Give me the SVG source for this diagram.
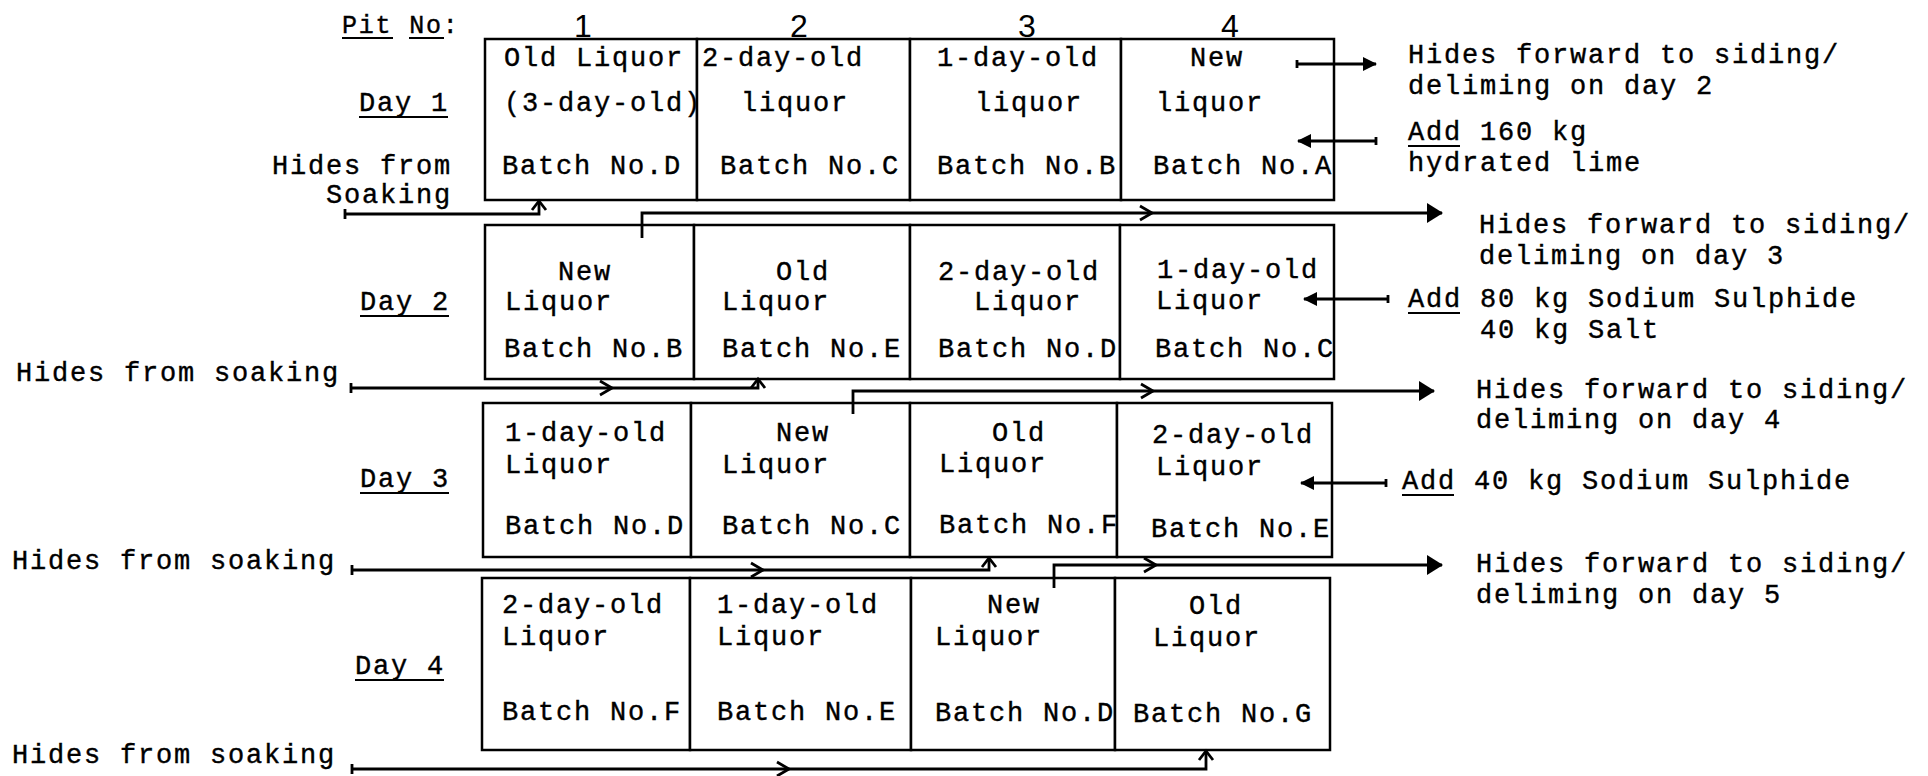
<svg xmlns="http://www.w3.org/2000/svg" width="1928" height="776" viewBox="0 0 1928 776">
<defs>
<style>
.t{font-family:"Liberation Mono","Courier New",monospace;font-size:27px;letter-spacing:1.8px;fill:#000;stroke:#000;stroke-width:0.4}
.s{font-size:25px;letter-spacing:1.8px}
.num{font-family:"Liberation Sans",Arial,sans-serif;font-size:32px;fill:#000}
.cell{fill:#fff;stroke:#000;stroke-width:2.5}
.ln{fill:none;stroke:#000;stroke-width:2.8}
.ul{stroke:#000;stroke-width:2.2}
.chev{fill:none;stroke:#000;stroke-width:2.8}
</style>
<marker id="big" markerUnits="userSpaceOnUse" markerWidth="16" markerHeight="20" refX="15" refY="10" orient="auto">
<path d="M0,0 L16,10 L0,20 z" fill="#000"/>
</marker>
<marker id="sm" markerUnits="userSpaceOnUse" markerWidth="14" markerHeight="14" refX="13" refY="7" orient="auto">
<path d="M0,0 L14,7 L0,14 z" fill="#000"/>
</marker>
</defs>
<rect width="1928" height="776" fill="#fff"/>

<g id="header">
<text class="t s" x="342" y="33">Pit No:</text>
<line class="ul" x1="342" y1="38" x2="393" y2="38"/>
<line class="ul" x1="409" y1="38" x2="444" y2="38"/>
<text class="num" x="583" y="37" text-anchor="middle">1</text>
<text class="num" x="799" y="37" text-anchor="middle">2</text>
<text class="num" x="1027" y="37" text-anchor="middle">3</text>
<text class="num" x="1230" y="37" text-anchor="middle">4</text>
</g>

<g id="labels">
<text class="t" x="359" y="111">Day 1</text><line class="ul" x1="359" y1="117" x2="448" y2="117"/>
<text class="t" x="360" y="310">Day 2</text><line class="ul" x1="360" y1="316" x2="449" y2="316"/>
<text class="t" x="360" y="487">Day 3</text><line class="ul" x1="360" y1="493" x2="449" y2="493"/>
<text class="t" x="355" y="674">Day 4</text><line class="ul" x1="355" y1="680" x2="444" y2="680"/>
<text class="t" x="452" y="174" text-anchor="end">Hides from</text>
<text class="t" x="452" y="203" text-anchor="end">Soaking</text>
<text class="t" x="16" y="381">Hides from soaking</text>
<text class="t" x="12" y="569">Hides from soaking</text>
<text class="t" x="12" y="763">Hides from soaking</text>
</g>

<g id="day1">
<g id="d1p1"><rect class="cell" x="485" y="39" width="212" height="161"/><text class="t" x="504" y="66">Old Liquor</text><text class="t" x="504" y="111">(3-day-old)</text><text class="t" x="502" y="174">Batch No.D</text></g>
<g id="d1p2"><rect class="cell" x="697" y="39" width="213" height="161"/><text class="t" x="702" y="66">2-day-old</text><text class="t" x="741" y="111">liquor</text><text class="t" x="720" y="174">Batch No.C</text></g>
<g id="d1p3"><rect class="cell" x="910" y="39" width="211" height="161"/><text class="t" x="937" y="66">1-day-old</text><text class="t" x="975" y="111">liquor</text><text class="t" x="937" y="174">Batch No.B</text></g>
<g id="d1p4"><rect class="cell" x="1121" y="39" width="213" height="161"/><text class="t" x="1190" y="66">New</text><text class="t" x="1156" y="111">liquor</text><text class="t" x="1153" y="174">Batch No.A</text></g>
</g>

<g id="day2">
<g id="d2p1"><rect class="cell" x="485" y="225" width="209" height="154"/><text class="t" x="558" y="280">New</text><text class="t" x="505" y="310">Liquor</text><text class="t" x="504" y="357">Batch No.B</text></g>
<g id="d2p2"><rect class="cell" x="694" y="225" width="216" height="154"/><text class="t" x="776" y="280">Old</text><text class="t" x="722" y="310">Liquor</text><text class="t" x="722" y="357">Batch No.E</text></g>
<g id="d2p3"><rect class="cell" x="910" y="225" width="210" height="154"/><text class="t" x="938" y="280">2-day-old</text><text class="t" x="974" y="310">Liquor</text><text class="t" x="938" y="357">Batch No.D</text></g>
<g id="d2p4"><rect class="cell" x="1120" y="225" width="214" height="154"/><text class="t" x="1157" y="278">1-day-old</text><text class="t" x="1156" y="309">Liquor</text><text class="t" x="1155" y="357">Batch No.C</text></g>
</g>

<g id="day3">
<g id="d3p1"><rect class="cell" x="483" y="403" width="208" height="154"/><text class="t" x="505" y="441">1-day-old</text><text class="t" x="505" y="473">Liquor</text><text class="t" x="505" y="534">Batch No.D</text></g>
<g id="d3p2"><rect class="cell" x="691" y="403" width="219" height="154"/><text class="t" x="776" y="441">New</text><text class="t" x="722" y="473">Liquor</text><text class="t" x="722" y="534">Batch No.C</text></g>
<g id="d3p3"><rect class="cell" x="910" y="403" width="207" height="154"/><text class="t" x="992" y="441">Old</text><text class="t" x="939" y="472">Liquor</text><text class="t" x="939" y="533">Batch No.F</text></g>
<g id="d3p4"><rect class="cell" x="1117" y="403" width="215" height="154"/><text class="t" x="1152" y="443">2-day-old</text><text class="t" x="1156" y="475">Liquor</text><text class="t" x="1151" y="537">Batch No.E</text></g>
</g>

<g id="day4">
<g id="d4p1"><rect class="cell" x="482" y="578" width="208" height="172"/><text class="t" x="502" y="613">2-day-old</text><text class="t" x="502" y="645">Liquor</text><text class="t" x="502" y="720">Batch No.F</text></g>
<g id="d4p2"><rect class="cell" x="690" y="578" width="221" height="172"/><text class="t" x="717" y="613">1-day-old</text><text class="t" x="717" y="645">Liquor</text><text class="t" x="717" y="720">Batch No.E</text></g>
<g id="d4p3"><rect class="cell" x="911" y="578" width="204" height="172"/><text class="t" x="987" y="613">New</text><text class="t" x="935" y="645">Liquor</text><text class="t" x="935" y="721">Batch No.D</text></g>
<g id="d4p4"><rect class="cell" x="1115" y="578" width="215" height="172"/><text class="t" x="1189" y="614">Old</text><text class="t" x="1153" y="646">Liquor</text><text class="t" x="1133" y="722">Batch No.G</text></g>
</g>

<g id="notes">
<text class="t" x="1408" y="63">Hides forward to siding/</text>
<text class="t" x="1408" y="94">deliming on day 2</text>
<text class="t" x="1408" y="140">Add 160 kg</text><line class="ul" x1="1408" y1="146" x2="1460" y2="146"/>
<text class="t" x="1408" y="171">hydrated lime</text>
<text class="t" x="1479" y="233">Hides forward to siding/</text>
<text class="t" x="1479" y="264">deliming on day 3</text>
<text class="t" x="1408" y="307">Add 80 kg Sodium Sulphide</text><line class="ul" x1="1408" y1="313" x2="1460" y2="313"/>
<text class="t" x="1480" y="338">40 kg Salt</text>
<text class="t" x="1476" y="398">Hides forward to siding/</text>
<text class="t" x="1476" y="428">deliming on day 4</text>
<text class="t" x="1402" y="489">Add 40 kg Sodium Sulphide</text><line class="ul" x1="1402" y1="495" x2="1454" y2="495"/>
<text class="t" x="1476" y="572">Hides forward to siding/</text>
<text class="t" x="1476" y="603">deliming on day 5</text>
</g>

<g id="connectors">
<path class="ln" d="M1297,60 V68 M1297,64 H1376" marker-end="url(#sm)"/>
<path class="ln" d="M1376,137 V145 M1376,141 H1298" marker-end="url(#sm)"/>
<path class="ln" d="M345,209 V219 M345,214 H539 V202"/>
<path class="chev" d="M532,210 L539,201 L546,210"/>
<path class="ln" d="M642,238 V213 H1442" marker-end="url(#big)"/>
<path class="chev" d="M1140,206 L1152,213 L1140,220"/>
<path class="ln" d="M1388,295 V303 M1388,299 H1304" marker-end="url(#sm)"/>
<path class="ln" d="M351,383 V393 M351,388 H758 V380"/>
<path class="chev" d="M600,381 L612,388 L600,395"/>
<path class="chev" d="M751,388 L758,379 L765,388"/>
<path class="ln" d="M853,414 V391 H1434" marker-end="url(#big)"/>
<path class="chev" d="M1141,384 L1153,391 L1141,398"/>
<path class="ln" d="M1386,479 V487 M1386,483 H1301" marker-end="url(#sm)"/>
<path class="ln" d="M352,565 V575 M352,570 H989 V559"/>
<path class="chev" d="M751,563 L763,570 L751,577"/>
<path class="chev" d="M982,567 L989,558 L996,567"/>
<path class="ln" d="M1054,588 V565 H1442" marker-end="url(#big)"/>
<path class="chev" d="M1144,558 L1156,565 L1144,572"/>
<path class="ln" d="M352,764 V774 M352,769 H1206 V752"/>
<path class="chev" d="M777,762 L789,769 L777,776"/>
<path class="chev" d="M1199,760 L1206,751 L1213,760"/>
</g>
</svg>
